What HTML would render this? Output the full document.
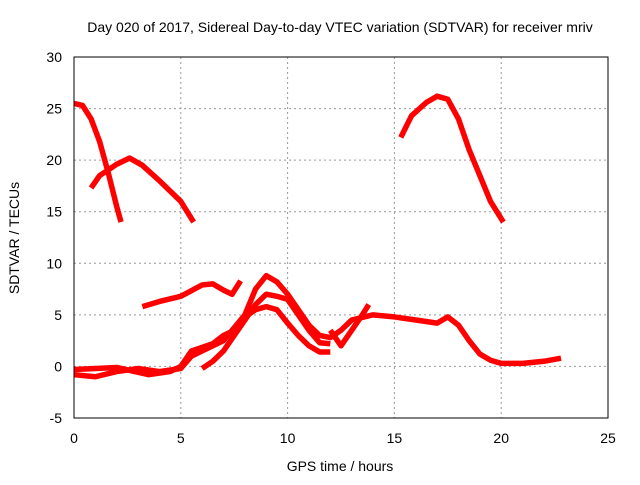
<!DOCTYPE html>
<html><head><meta charset="utf-8"><style>
body{margin:0;background:#fff}
text{font-family:"Liberation Sans",sans-serif;font-size:14px;fill:#000}
</style></head><body>
<svg id="c" width="640" height="480">
<rect width="640" height="480" fill="#fff"/>
<text x="340" y="32" text-anchor="middle">Day 020 of 2017, Sidereal Day-to-day VTEC variation (SDTVAR) for receiver mriv</text>
<text x="340" y="471" text-anchor="middle">GPS time / hours</text>
<text transform="translate(19,238) rotate(-90)" text-anchor="middle">SDTVAR / TECUs</text>
<g id="grid"></g><g id="series"></g>
<rect x="74" y="57" width="534" height="361" fill="none" stroke="#000" stroke-width="1"/>
</svg>
<script>
const xTicks=[0,5,10,15,20,25];
const yTicks=[-5,0,5,10,15,20,25,30];
const sA=[[0,25.5],[0.4,25.3],[0.8,24],[1.2,21.8],[1.6,18.8],[2,15.5],[2.2,14]];
const sB=[[0.8,17.3],[1.2,18.5],[2,19.6],[2.6,20.2],[3.2,19.5],[4,18],[5,16],[5.6,14]];
const sC=[[15.3,22.2],[15.8,24.3],[16.5,25.6],[17,26.2],[17.5,25.9],[18,24],[18.5,21],[19,18.5],[19.5,16],[20.1,14]];
const sD=[[3.2,5.8],[4,6.3],[5,6.8],[6,7.9],[6.5,8],[7,7.4],[7.4,7],[7.8,8.3]];
const sE=[[0,-0.8],[1,-1],[2,-0.5],[3,-0.2],[4,-0.5],[5,-0.2],[5.5,1],[6,1.5],[6.5,2],[7,2.5],[8,5],[8.5,7.5],[9,8.8],[9.5,8.2],[10,7],[10.5,5.5],[11,4],[11.5,3],[12,2.8],[12.5,3.5],[13,4.5],[14,5],[15,4.8],[16,4.5],[17,4.2],[17.5,4.8],[18,4],[18.5,2.5],[19,1.2],[19.5,0.6],[20,0.3],[21,0.3],[22,0.5],[22.8,0.8]];
const sF=[[0,-0.3],[2,-0.1],[3.5,-0.8],[4.5,-0.5],[5,0],[5.5,1.5],[6.5,2.2],[7,3],[7.5,3.5],[8,4.8],[8.5,5.5],[9,5.8],[9.5,5.5],[10,4.2],[10.5,3],[11,2],[11.5,1.4],[12,1.4]];
const sG=[[6,-0.2],[6.5,0.5],[7,1.5],[7.5,3],[8,4.5],[8.5,6],[9,7],[9.5,6.8],[10,6.5],[10.5,5],[11,3.5],[11.5,2.3],[12,2.2]];
const sH=[[12,3.5],[12.5,2],[13,3.5],[13.5,5],[13.8,6]];
const seriesList=[sA,sB,sC,sD,sE,sF,sG,sH];
const X=v=>74+v*534/25, Y=v=>418-(v+5)*361/35;
const NS="http://www.w3.org/2000/svg";
const g=document.getElementById('grid'), s=document.getElementById('series');
function mk(t,a,p){const e=document.createElementNS(NS,t);for(const k in a)e.setAttribute(k,a[k]);p.appendChild(e);return e;}
xTicks.forEach(v=>{
 if(v>0&&v<25){const l=mk('line',{x1:X(v),x2:X(v),y1:57,y2:418,stroke:'#999','stroke-dasharray':'2,3'},g);
 
 }
 const t=mk('text',{x:X(v),y:443,'text-anchor':'middle'},g);t.textContent=v;
 
 
});
yTicks.forEach(v=>{
 if(v>-5&&v<30){const l=mk('line',{x1:74,x2:608,y1:Y(v),y2:Y(v),stroke:'#999','stroke-dasharray':'2,3'},g);
 
 }
 const t=mk('text',{x:62,y:Y(v)+5,'text-anchor':'end'},g);t.textContent=v;
 
 
});
seriesList.forEach((d,i)=>{
 const p=mk('polyline',{points:d.map(q=>X(q[0])+','+Y(q[1])).join(' '),fill:'none',stroke:'#f00','stroke-width':5.5,'stroke-linejoin':'round'},s);
 
 
});
</script>
</body></html>
